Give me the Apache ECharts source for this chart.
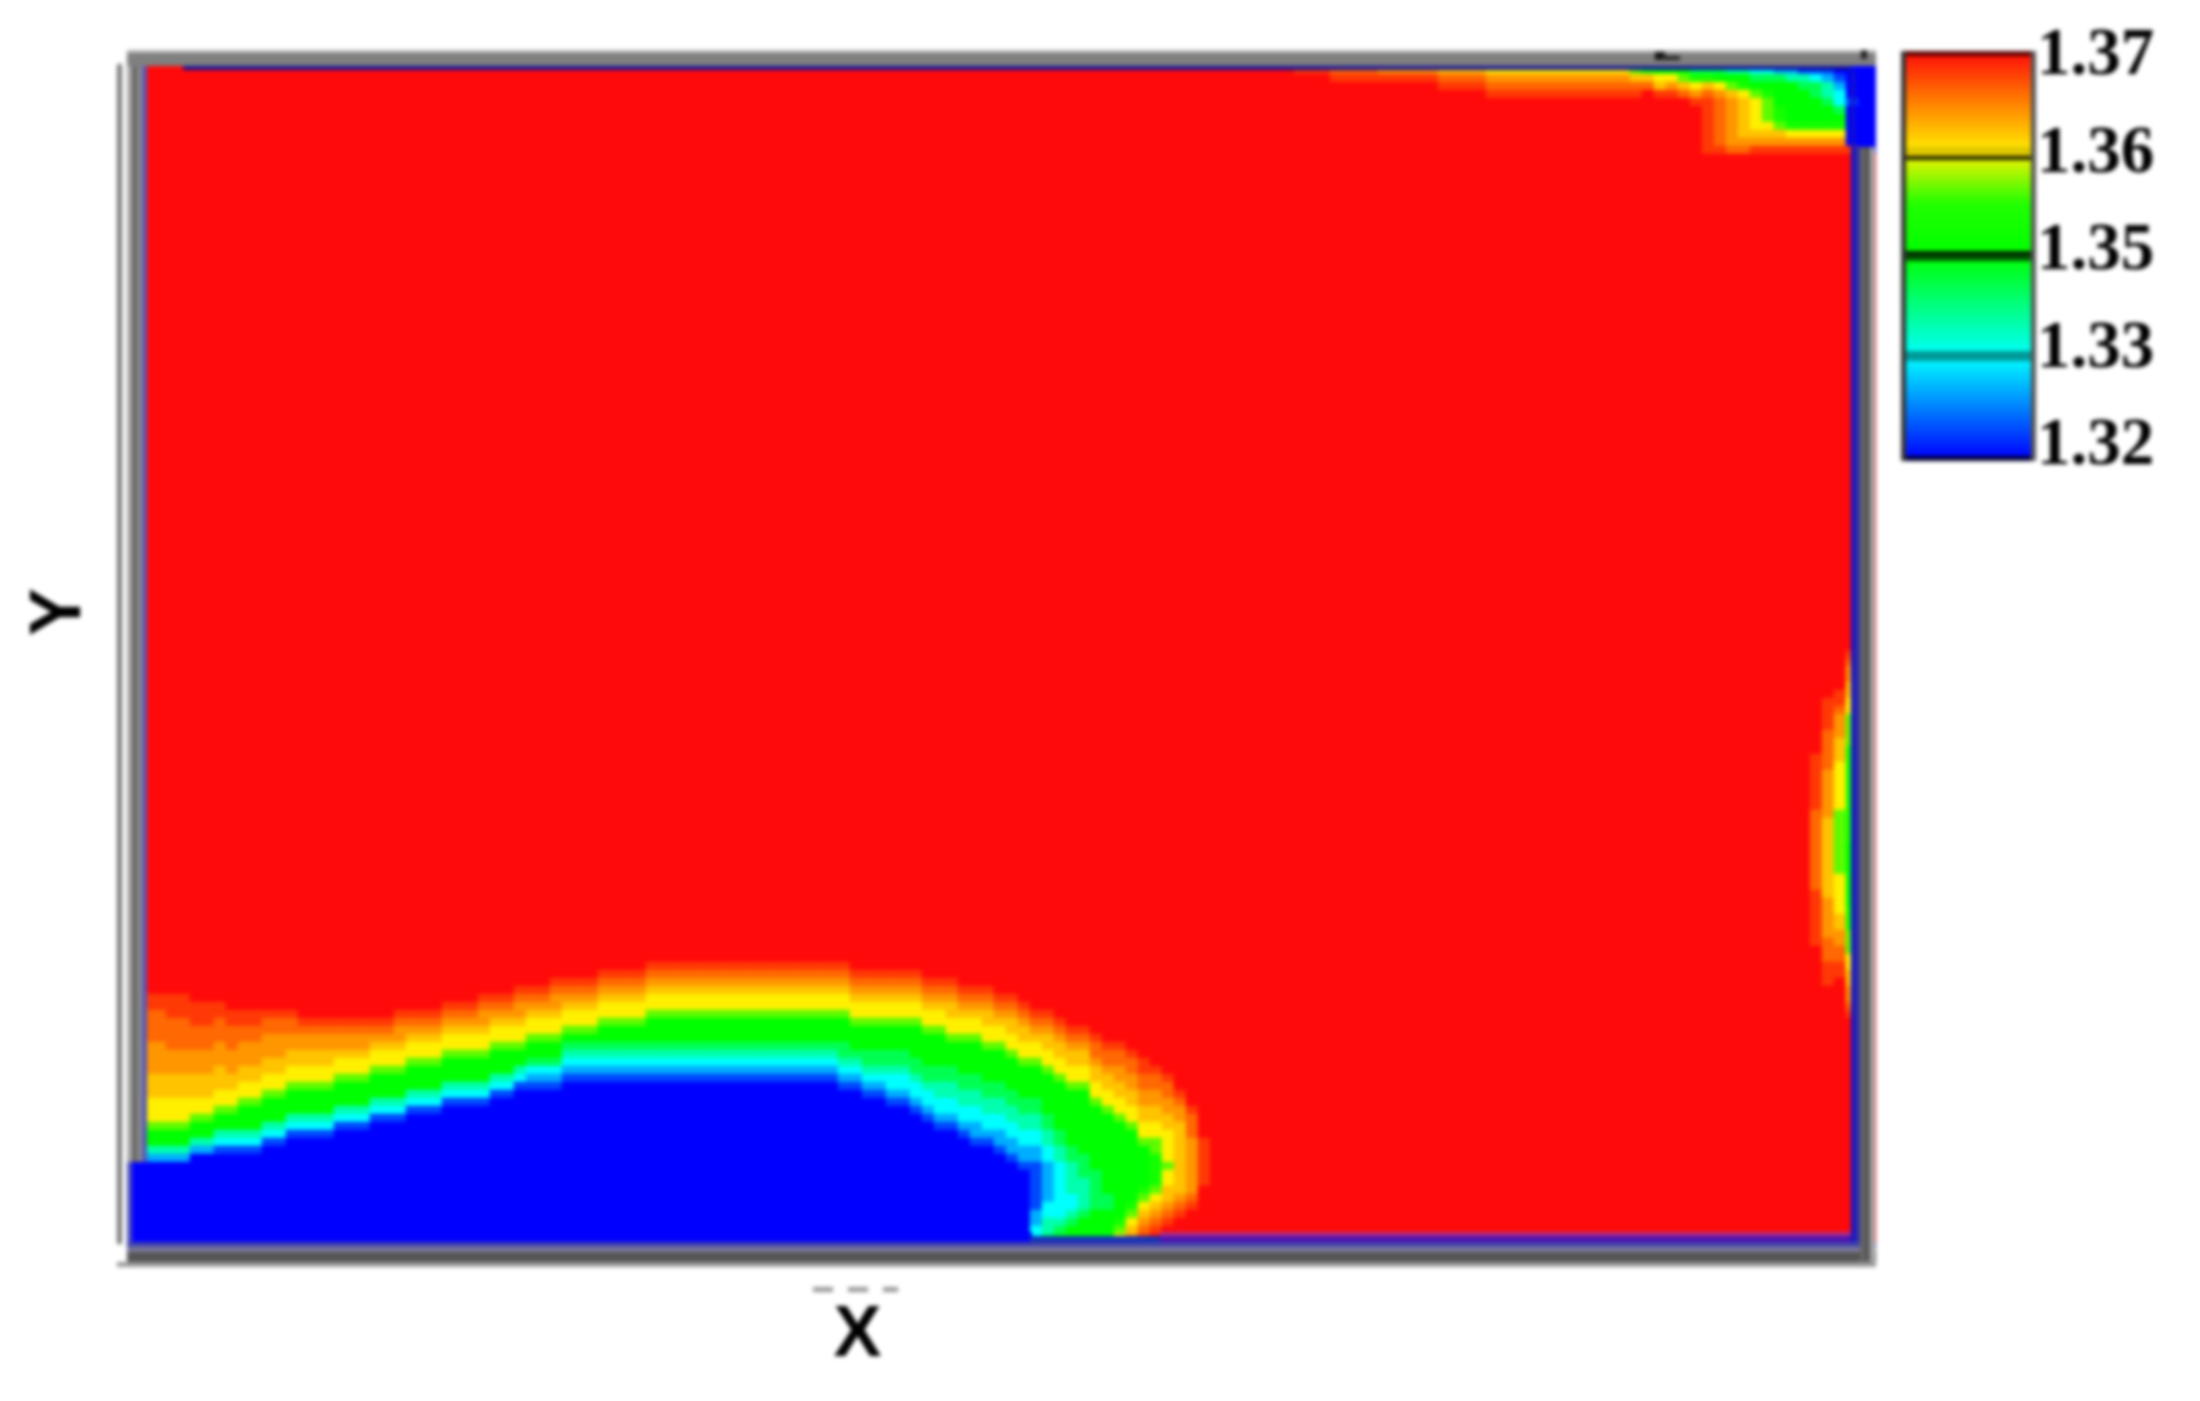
<!DOCTYPE html>
<html>
<head>
<meta charset="utf-8">
<style>html,body{margin:0;padding:0;background:#fff}#main{width:2200px;height:1401px;filter:blur(2px)}</style>
<script src="https://cdn.jsdelivr.net/npm/echarts@6/dist/echarts.min.js"></script>
</head>
<body>
<div id="main"></div>
<script>
// Colour-bar scale
const scaleMin = 1.32;
const scaleMax = 1.37;
const scaleColors = ['#0000ff','#0080ff','#00ffff','#00ff80','#00ff00','#20ff00','#fff000','#ff8000','#ff0a0a'];
const tickLabels = ['1.37','1.36','1.35','1.33','1.32'];

// Cell level codes -> field value
const levelCodes = ['0','1','2','3','4','5','6','7','8','9','a','b','c','d','.'];
const levelValues = [1.32,1.3235,1.3285,1.3325,1.3365,1.341,1.345,1.349,1.353,1.3575,1.36,1.3625,1.365,1.3675,1.37];

const columnCount = 146;
const rowCount = 147;

// Cells that differ from the saturated background: [first column, last column, first row, levels downward]
// '*' repeats the previous level to the bottom of the field.
const lowerPlume = [
[0,0,137,"0*"],
[1,2,116,"ddccccbbbbaaa99986642"+"0*"],
[3,4,116,"dddccccbbbaaa99986642"+"0*"],
[5,6,117,"dddcccbbbaaa9986642"+"0*"],
[7,7,117,"ddcccbbbaaa99866431"+"0*"],
[8,8,118,"ddcccbbbaa99866431"+"0*"],
[9,10,118,"ddccbbbaa998666431"+"0*"],
[11,12,118,"dccbbbaa998666431"+"0*"],
[13,13,118,"dccbbaa998666431"+"0*"],
[14,16,119,"dcbbaa998666431"+"0*"],
[17,19,119,"dcbba998666431"+"0*"],
[20,21,119,"dcba998666431"+"0*"],
[22,22,118,"dcbba998666431"+"0*"],
[23,25,118,"dcba998666431"+"0*"],
[26,28,117,"dcba998666431"+"0*"],
[29,29,116,"dcbba998666431"+"0*"],
[30,31,116,"dcba998666431"+"0*"],
[32,32,115,"dcbba99866431"+"0*"],
[33,34,115,"dcba998665321"+"0*"],
[35,35,114,"dcbba998665321"+"0*"],
[36,38,114,"dcba998654321"+"0*"],
[39,42,113,"dcba9986654321"+"0*"],
[43,47,112,"dcba99866654321"+"0*"],
[48,58,112,"dcba99866654321"+"0*"],
[59,59,112,"dcba998666554321"+"0*"],
[60,60,113,"dcba99866654321"+"0*"],
[61,62,113,"dcba998666554321"+"0*"],
[63,64,113,"dcba9986665543321"+"0*"],
[65,65,113,"dcba99866665543321"+"0*"],
[66,66,114,"dcba99866665543321"+"0*"],
[67,67,114,"dcba998666655443321"+"0*"],
[68,68,114,"dcbaa99866655443321"+"0*"],
[69,69,115,"dcba998666655443321"+"0*"],
[70,70,115,"dcba9986666554433221"+"0*"],
[71,71,115,"dcbaa998666655443321"+"0*"],
[72,72,116,"dcba9986666554433221"+"0*"],
[73,73,116,"dcbaa9986666554433221"+"0*"],
[74,74,117,"dcbaa9986666554433221"+"0*"],
[75,75,118,"dcba998"+"66665544332211"+"11112233"+"3*"],
[76,76,118,"dcbaa998"+"66666"+"55"+"44"+"33"+"22222"+"33"+"44"+"5*"],
[77,77,119,"dcbaa998"+"666666"+"55"+"44"+"3333333"+"4"+"5"+"6*"],
[78,78,120,"dcbaa998"+"6666666"+"55"+"4444"+"33"+"4"+"5"+"6*"],
[79,79,120,"dcbaa998"+"66666666"+"555"+"4444"+"5"+"6*"],
[80,80,121,"dccbaa998"+"66666666"+"55555"+"6*"],
[81,81,122,"dccbaa998"+"6666666666"+"55"+"6*"],
[82,82,122,"dccbbaa998"+"666666666666"+"7"+"8"+"9*"],
[83,83,123,"dccbbaa998"+"666666666"+"7"+"8"+"9"+"a"+"b*"],
[84,84,124,"ddccbbaa998"+"66666"+"789abcd"],
[85,85,125,"dccbbaa998"+"8"+"7777"+"8"+"9abcd"],
[86,86,126,"dccbbaa"+"99"+"99"+"8"+"9"+"9"+"a"+"a"+"b"+"c"+"d"],
[87,87,128,"dcbbaa"+"a"+"aaaa"+"aa"+"b"+"c"+"d"],
[88,88,130,"dcccbbb"+"bbbb"+"c"+"d"],
[89,89,134,"dddddd"]
];

const upperRightPlume = [
[97,99,0,"d"],
[100,103,0,"cd"],
[104,108,0,"bd"],
[109,112,0,"acd"],
[113,124,0,"9bcd"],
[125,125,0,"8acd"],
[126,126,0,"7ac"],
[127,127,0,"69ad"],
[128,128,0,"69bd"],
[129,129,0,"68ac"],
[130,130,0,"579bd"],
[131,131,0,"57acddddddd"],
[132,132,0,"569bccccccd"],
[133,133,0,"468abbbbbbc"],
[134,134,0,"4679aaaaabc"],
[135,135,0,"35689999abd"],
[136,136,0,"35678889abd"],
[137,137,0,"25666778abd"],
[138,138,0,"246666679bd"],
[139,139,0,"145666679bd"],
[140,140,0,"135566679bd"],
[141,141,0,"124456679bd"],
[142,142,0,"012335679bd"],
[143,143,0,"0000100000d"],
[144,145,0,"00000000000"]
];

const rightWallPlume = [
[140,140,86,"dddddddccccccccccddddddd"],
[141,141,79,"ddddcccccbbbbbbaaaaaaaaaabbbbbcccddd"],
[142,142,78,"ddcbbbaaa99999988888888"+"99999aabbccdd"],
[143,143,73,"dcbbaa99"+"8888"+"777777777777"+"66666666"+"777"+"88899aabbcd"]
];

const xName = 'X';
const yName = 'Y';

// Field matrix
const field = [];
for (let c = 0; c < columnCount; c++) {
  field.push(new Array(rowCount).fill(scaleMax));
}
const valueOf = code => levelValues[levelCodes.indexOf(code)];
[...lowerPlume, ...upperRightPlume, ...rightWallPlume].forEach(([c0, c1, r0, levels]) => {
  for (let c = c0; c <= c1; c++) {
    let r = r0;
    for (let i = 0; i < levels.length; i++) {
      if (levels[i] === '*') {
        while (r < rowCount) { field[c][r++] = valueOf(levels[i - 1]); }
      } else if (r < rowCount) {
        field[c][r++] = valueOf(levels[i]);
      }
    }
  }
});
const cells = [];
field.forEach((col, c) => col.forEach((v, r) => cells.push([c, r, v])));
const colNames = field.map((_, c) => String(c));
const rowNames = field[0].map((_, r) => String(r));

// Frame decoration: [x, y, w, h, colour]
const frame = [
  [1876,60,12,1190,'#ffffff'],
  [117,1262,1759,5,'#999999'],
  [127,50,5,1112,'#a8a8a8'],[132,50,5,1112,'#666666'],[137,50,5,1112,'#8a8a8a'],[142,62,5,1100,'#5858b8'],
  [127,1162,5,100,'#5050b8'],
  [127,50,1749,3,'#b4b4b4'],[127,53,1749,13,'#808080'],
  [183,66,1668,4,'#10109a'],
  [132,1232,900,10,'#0000ff'],
  [1030,1236,130,6,'#1030b8'],
  [1160,1232,691,4,'#b03088'],[1160,1236,691,6,'#5010b0'],
  [127,1242,1749,5,'#4444aa'],[127,1247,1749,5,'#7c7c9c'],[127,1252,1749,10,'#555555'],
  [1851,70,4,1172,'#1212c8'],[1855,147,5,1095,'#3030a8'],
  [1860,147,5,1115,'#666666'],[1865,147,5,1115,'#555555'],[1870,147,5,1115,'#aaaaaa'],
  [1655,52,10,8,'#111111'],[1660,56,20,4,'#222222'],[1861,50,6,9,'#222222'],
  [813,1287,20,5,'#999999'],[848,1287,20,5,'#999999'],[883,1287,15,5,'#999999'],
  [1906,51,125,5,'#5a0000'],[1906,456,125,5,'#000033'],
  [1901,51,5,410,'#333333'],[2031,51,5,410,'#555555'],
  [1906,147,125,9,'#ddc800'],[1906,156,125,4,'#1a1a00'],
  [1906,251,125,4,'#002000'],[1906,255,125,6,'#005500'],
  [1906,351,125,10,'#009999']
];

const chart = echarts.init(document.getElementById('main'), null, {renderer:'canvas'});
chart.setOption({
  animation:false,
  backgroundColor:'#ffffff',
  grid:[
    {left:130,top:66,width:1752,height:1176,containLabel:false},
    {left:2031,top:57,width:1,height:390,containLabel:false}
  ],
  xAxis:[
    {type:'category',gridIndex:0,data:colNames,position:'bottom',
     axisLine:{show:false},axisTick:{show:false},axisLabel:{show:false},splitLine:{show:false},
     name:xName,nameLocation:'middle',nameGap:58,
     nameTextStyle:{fontFamily:'Liberation Sans',fontWeight:'bold',fontSize:72,color:'#000',padding:[0,297,0,0]}},
    {type:'value',gridIndex:1,min:0,max:1,show:false}
  ],
  yAxis:[
    {type:'category',gridIndex:0,data:rowNames,inverse:true,position:'left',offset:10.5,
     axisLine:{show:true,onZero:false,lineStyle:{color:'#777777',width:5}},axisTick:{show:false},axisLabel:{show:false},splitLine:{show:false},
     name:yName,nameLocation:'middle',nameGap:23,nameRotate:90,
     nameTextStyle:{fontFamily:'Liberation Sans',fontWeight:'bold',fontSize:72,color:'#000',padding:[0,0,0,84]}},
    {type:'category',gridIndex:1,data:tickLabels,inverse:true,position:'right',boundaryGap:false,
     axisLine:{show:false},axisTick:{show:false},splitLine:{show:false},
     axisLabel:{show:true,interval:0,margin:5,align:'left',fontFamily:'Liberation Serif',fontWeight:'bold',fontSize:67,color:'#000'}}
  ],
  visualMap:{
    type:'continuous',seriesIndex:0,min:scaleMin,max:scaleMax,calculable:false,
    left:1906,top:51,itemWidth:125,itemHeight:408,padding:0,text:null,showLabel:false,
    inRange:{color:scaleColors},textStyle:{fontSize:0}
  },
  series:[{
    type:'heatmap',xAxisIndex:0,yAxisIndex:0,data:cells,progressive:0,
    itemStyle:{borderWidth:0},emphasis:{disabled:true}
  }],
  graphic:frame.map(([x,y,width,height,fill])=>({
    type:'rect',z:100,silent:true,shape:{x,y,width,height},style:{fill}
  }))
});
</script>
</body>
</html>
